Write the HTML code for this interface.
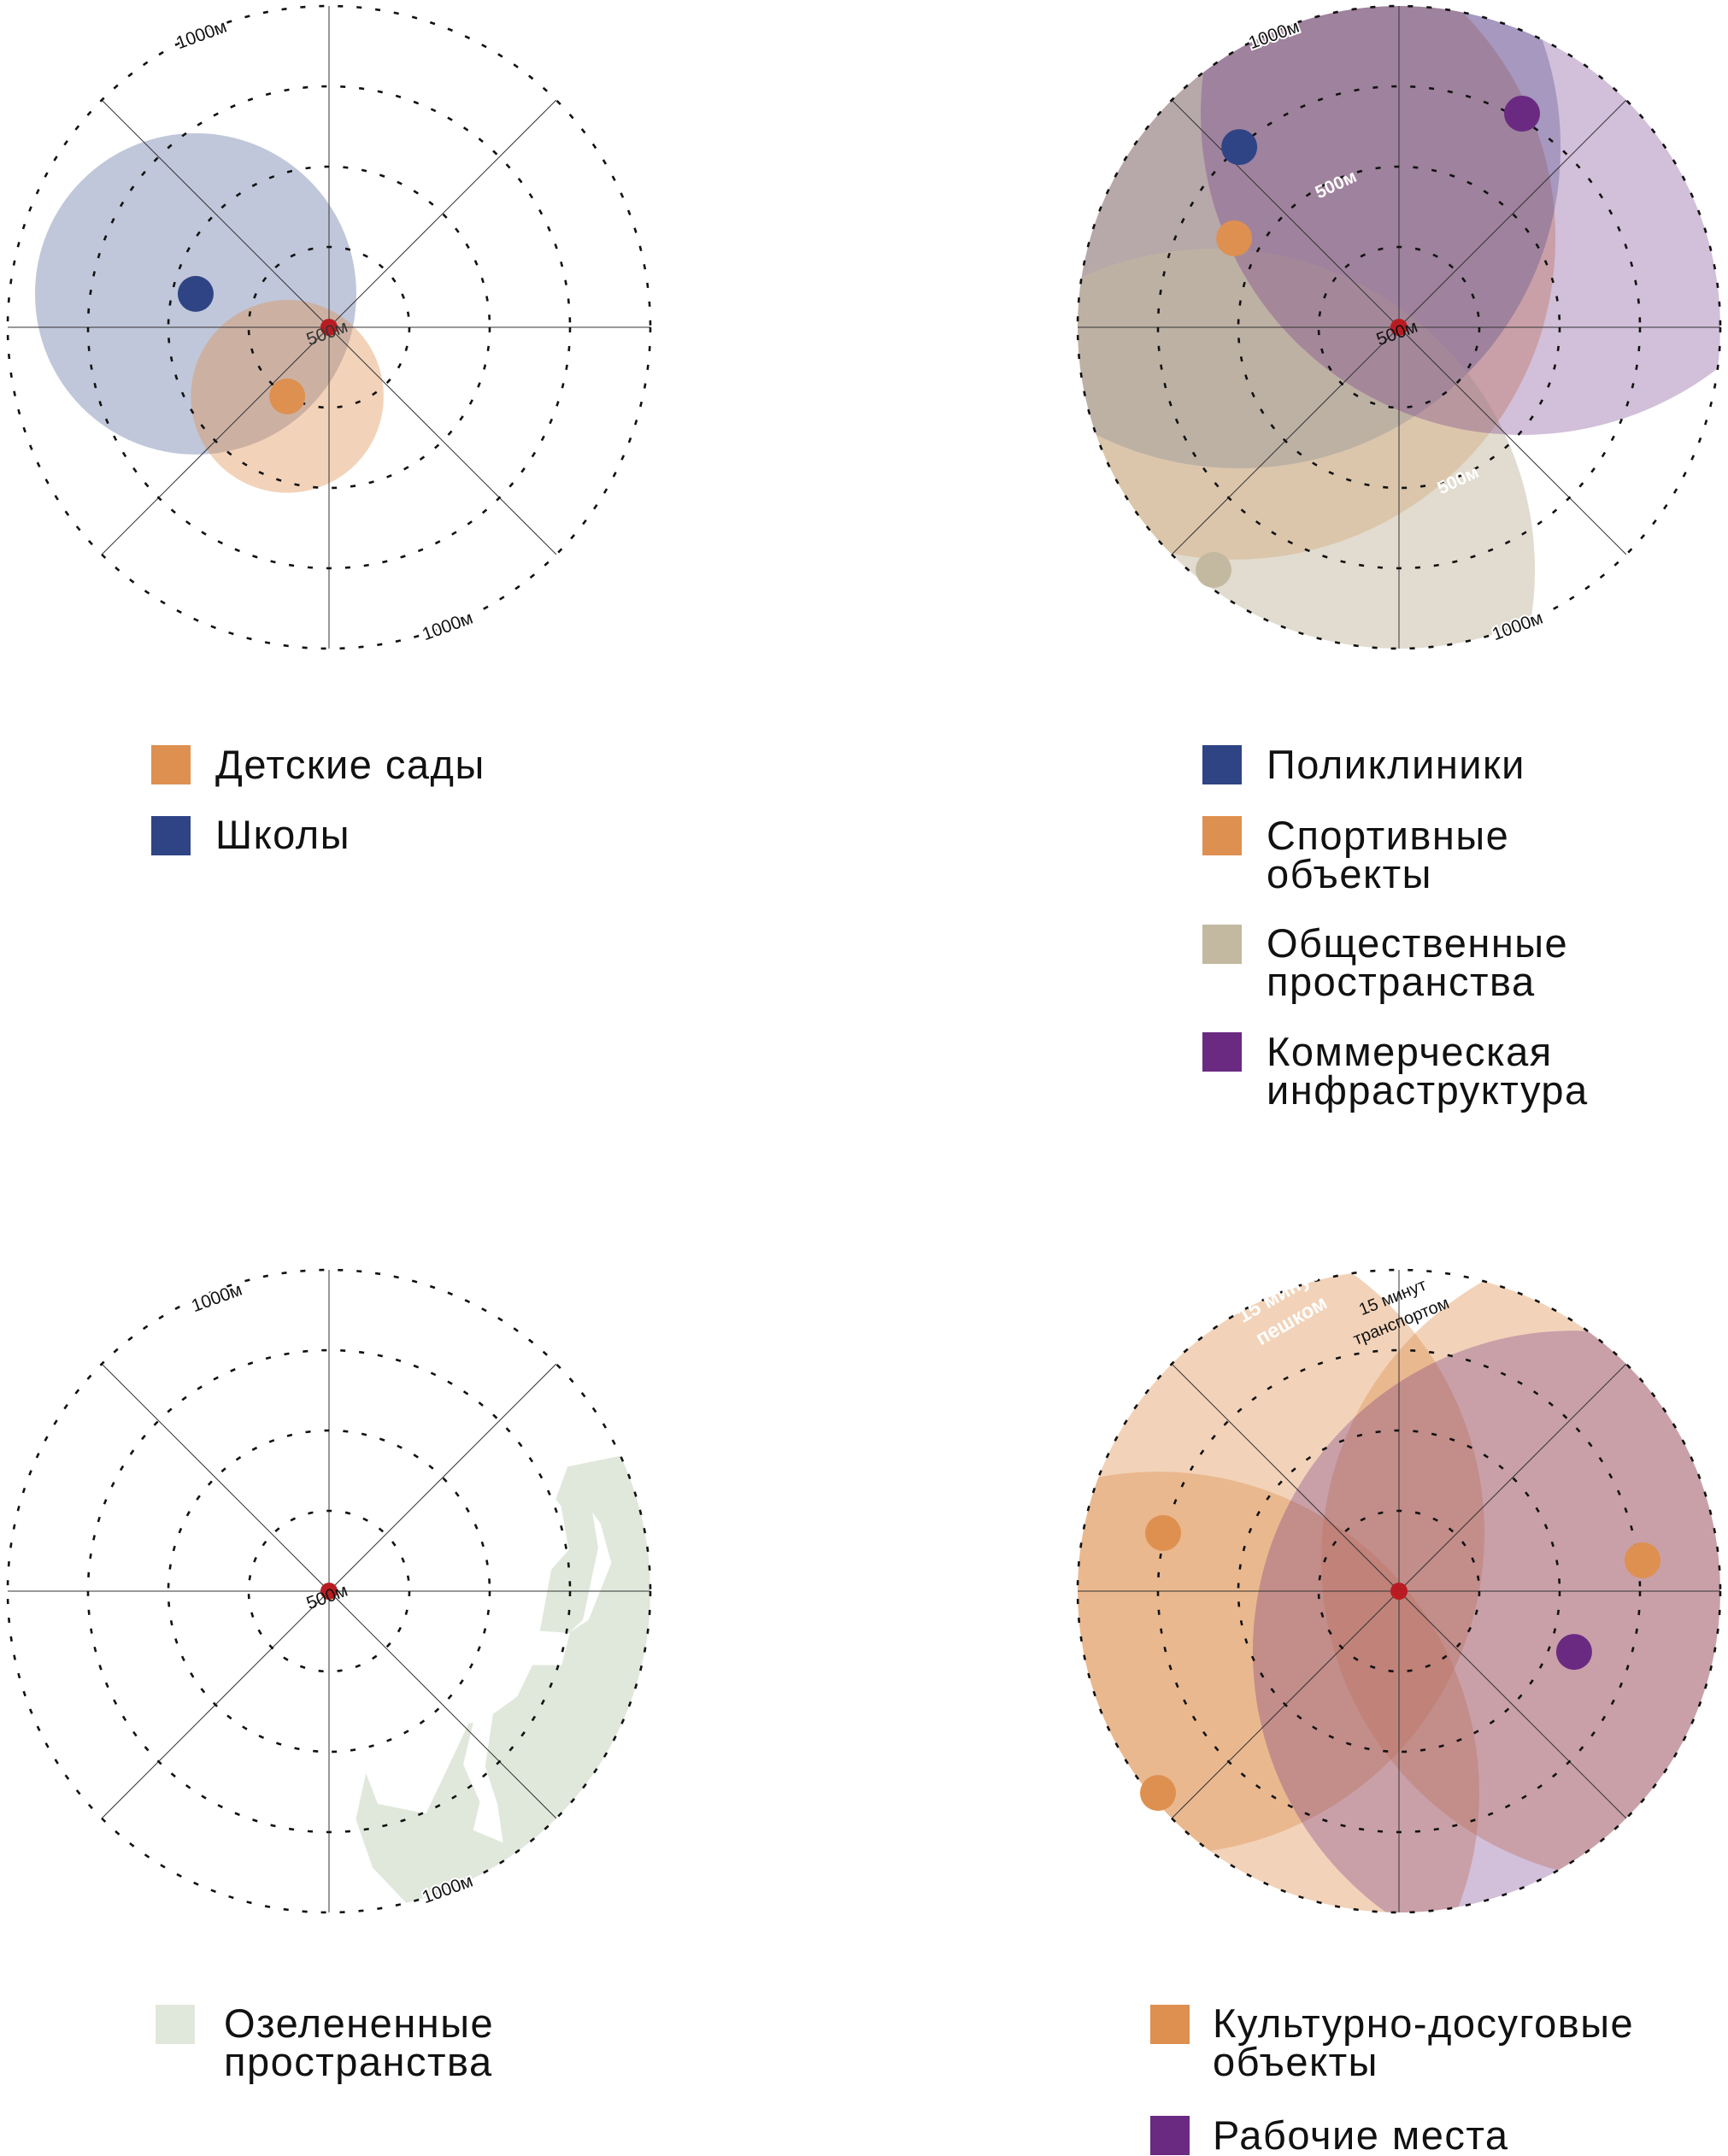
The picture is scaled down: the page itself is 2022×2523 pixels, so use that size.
<!DOCTYPE html>
<html><head><meta charset="utf-8">
<style>
html,body{margin:0;padding:0;background:#fff;}
body{width:2022px;height:2523px;position:relative;overflow:hidden;font-family:"Liberation Sans","Noto Sans CJK SC",sans-serif;}
svg{position:absolute;left:0;top:0;}
</style></head>
<body>
<svg id="chart" width="2022" height="2523" viewBox="0 0 2022 2523" xmlns="http://www.w3.org/2000/svg">
<defs>
<clipPath id="clipP2"><circle cx="1637" cy="383" r="376"/></clipPath>
<clipPath id="clipP3"><circle cx="385" cy="1862" r="376"/></clipPath>
<clipPath id="clipP4"><circle cx="1637" cy="1862" r="376"/></clipPath>
</defs>
<g id="layer-fills"></g>
<g id="layer-grid"></g>
<g id="layer-dots"></g>
<g id="layer-text"></g>
</svg>
<script>
// ---- data (metres relative to center, radius in metres) ----
const ringValues = [250, 500, 750, 1000];
const colors = {orange:'#de9050', blue:'#2f4485', tan:'#c3b9a0', purple:'#6a2a82', green:'#e0e8dc'};

const p1Cats = ['blue', 'orange'];
const p1X = [-415, -130];
const p1Y = [-104, 215];
const p1R = [500, 300];

const p2Cats = ['orange', 'blue', 'tan', 'purple'];
const p2X = [-513, -497, -577, 383];
const p2Y = [-277, -561, 755, -665];
const p2R = [1000, 1000, 1000, 1000];

const p4Cats = ['orange', 'orange', 'orange', 'purple'];
const p4X = [-734, -750, 758, 545];
const p4Y = [-181, 628, -96, 189];
const p4R = [1000, 1000, 1000, 1000];

const fillOpacity = {orange:0.4, blue:0.3, tan:0.5, purple:0.3};

const PX_PER_M = 376/1000;
const panels = [
  {name:'kindergartens-schools', cx:385, cy:383},
  {name:'clinics-sports-public-commercial', cx:1637, cy:383},
  {name:'green-spaces', cx:385, cy:1862},
  {name:'culture-workplaces', cx:1637, cy:1862}
];
const NS='http://www.w3.org/2000/svg';
const fills=document.getElementById('layer-fills');
const grid=document.getElementById('layer-grid');
const dotsL=document.getElementById('layer-dots');
const textL=document.getElementById('layer-text');
function mk(tag, attrs, parent){const e=document.createElementNS(NS,tag);for(const k in attrs)e.setAttribute(k,attrs[k]);parent.appendChild(e);return e;}
function sx(p,m){return p.cx+m*PX_PER_M;}
function sy(p,m){return p.cy+m*PX_PER_M;}

// green polygon (panel 3)
(function(){
  const g=mk('g',{'clip-path':'url(#clipP3)'},fills);
  const z=1/1.95;
  const pts=[[1295,480],[1420,455],[1600,700],[1600,1200],[1300,1500],[940,1490],[850,1395],[812,1285],[835,1180],[862,1250],[972,1272],[1070,1065],[1080,1065],[1057,1160],[1095,1245],[1080,1310],[1148,1338],[1135,1250],[1107,1165],[1125,1045],[1180,1005],[1215,933],[1282,933],[1300,860],[1232,855],[1258,715],[1298,670],[1280,570],[1268,555]];
  const poly=mk('polygon',{points:pts.map(q=>(q[0]*z).toFixed(1)+','+(1470+q[1]*z).toFixed(1)).join(' '),fill:colors.green},g);
  
  
  const hole=[[1352,585],[1370,610],[1395,700],[1343,830],[1300,858],[1330,830],[1365,665]];
  const h=mk('polygon',{points:hole.map(q=>(q[0]*z).toFixed(1)+','+(1470+q[1]*z).toFixed(1)).join(' '),fill:'#fff'},g);
  
  
})();

function drawAreas(p, cats, xs, ys, rs, clip){
  const g=mk('g',clip?{'clip-path':clip}:{},fills);
  for(let i=0;i<cats.length;i++){
    const c=mk('circle',{cx:sx(p,xs[i]),cy:sy(p,ys[i]),r:rs[i]*PX_PER_M,fill:colors[cats[i]],'fill-opacity':fillOpacity[cats[i]]},g);
    
    
  }
}
function drawDots(p, cats, xs, ys){
  for(let i=0;i<cats.length;i++){
    const c=mk('circle',{cx:sx(p,xs[i]),cy:sy(p,ys[i]),r:21,fill:colors[cats[i]]},dotsL);
    
    
  }
}
drawAreas(panels[0],p1Cats,p1X,p1Y,p1R,null);
drawAreas(panels[1],p2Cats,p2X,p2Y,p2R,'url(#clipP2)');
drawAreas(panels[3],p4Cats,p4X,p4Y,p4R,'url(#clipP4)');

// grid
panels.forEach(p=>{
  const g=mk('g',{},grid);
  
  
  const R=1000*PX_PER_M;
  for(let a=0;a<4;a++){
    const ang=a*Math.PI/4;
    const l=mk('line',{x1:p.cx-R*Math.cos(ang),y1:p.cy-R*Math.sin(ang),x2:p.cx+R*Math.cos(ang),y2:p.cy+R*Math.sin(ang),stroke:'#333','stroke-width':1},g);
    
    
  }
  ringValues.forEach(v=>{
    const c=mk('circle',{cx:p.cx,cy:p.cy,r:v*PX_PER_M,fill:'none',stroke:'#111','stroke-width':2.6,'stroke-dasharray':'6 16'},g);
    
    
  });
  const cd=mk('circle',{cx:p.cx,cy:p.cy,r:10,fill:'#b81c22'},dotsL);
  
  
});
drawDots(panels[0],p1Cats,p1X,p1Y);
drawDots(panels[1],p2Cats,p2X,p2Y);
drawDots(panels[3],p4Cats,p4X,p4Y);

// text labels
function label(txt,x,y,rot,size,fill,name,weight,stroke){
  const t=mk('text',{x:x,y:y,'font-size':size,fill:fill,'text-anchor':'middle','font-family':'Liberation Sans, sans-serif',transform:'rotate('+rot+' '+x+' '+y+')'},textL);
  if(weight)t.setAttribute('font-weight',weight);
  if(stroke){t.setAttribute('stroke',stroke);t.setAttribute('stroke-width',4);t.setAttribute('paint-order','stroke');}
  t.textContent=txt;
  
  
  return t;
}
label('1000м',238,47,-20,21,'#111','ring-label-top',null,'#fff');
label('1000м',526,739,-20,21,'#111','ring-label-bottom',null,'#fff');
label('500м',385,396,-20,21,'#333','ring-label-center');
label('1000м',1493,47,-20,21,'#111','ring-label-top',null,'#fff');
label('1000м',1778,739,-20,21,'#111','ring-label-bottom',null,'#fff');
label('500м',1637,396,-20,21,'#111','ring-label-center');
label('500м',1566,222,-25,21,'#fff','ring-label-white','bold');
label('500м',1709,568,-25,21,'#fff','ring-label-white','bold');
label('1000м',256,1525,-20,21,'#111','ring-label-top',null,'#fff');
label('1000м',526,2217,-20,21,'#111','ring-label-bottom',null,'#fff');
label('500м',385,1875,-20,21,'#111','ring-label-center');
label('15 минут',1632,1524,-22,20,'#111','transport-label-line1');
label('транспортом',1642,1552,-22,20,'#111','transport-label-line2');
label('15 минут',1500,1522,-30,24,'#fff','walk-label-line1','bold');
label('пешком',1515,1552,-30,24,'#fff','walk-label-line2','bold');

// legends
const legendItems=[
  [177,872,colors.orange,252,[911],['Детские сады'],'legend-kindergartens'],
  [177,955,colors.blue,252,[993],['Школы'],'legend-schools'],
  [1407,872,colors.blue,1482,[911],['Поликлиники'],'legend-clinics'],
  [1407,955,colors.orange,1482,[994,1039],['Спортивные','объекты'],'legend-sports'],
  [1407,1082,colors.tan,1482,[1120,1165],['Общественные','пространства'],'legend-public-spaces'],
  [1407,1208,colors.purple,1482,[1247,1292],['Коммерческая','инфраструктура'],'legend-commercial'],
  [182,2346,colors.green,262,[2384,2429],['Озелененные','пространства'],'legend-green'],
  [1346,2346,colors.orange,1419,[2384,2429],['Культурно-досуговые','объекты'],'legend-culture'],
  [1346,2476,colors.purple,1419,[2515],['Рабочие места'],'legend-workplaces']
];
legendItems.forEach(it=>{
  const g=mk('g',{},textL);
  
  
  const r=mk('rect',{x:it[0],y:it[1],width:46,height:46,fill:it[2]},g);
  
  
  it[5].forEach((s,j)=>{
    const t=mk('text',{x:it[3],y:it[4][j],'font-size':47,fill:'#111','font-family':'Liberation Sans, sans-serif','letter-spacing':'1.5'},g);
    t.textContent=s;
    
    
  });
});
</script>
</body></html>
